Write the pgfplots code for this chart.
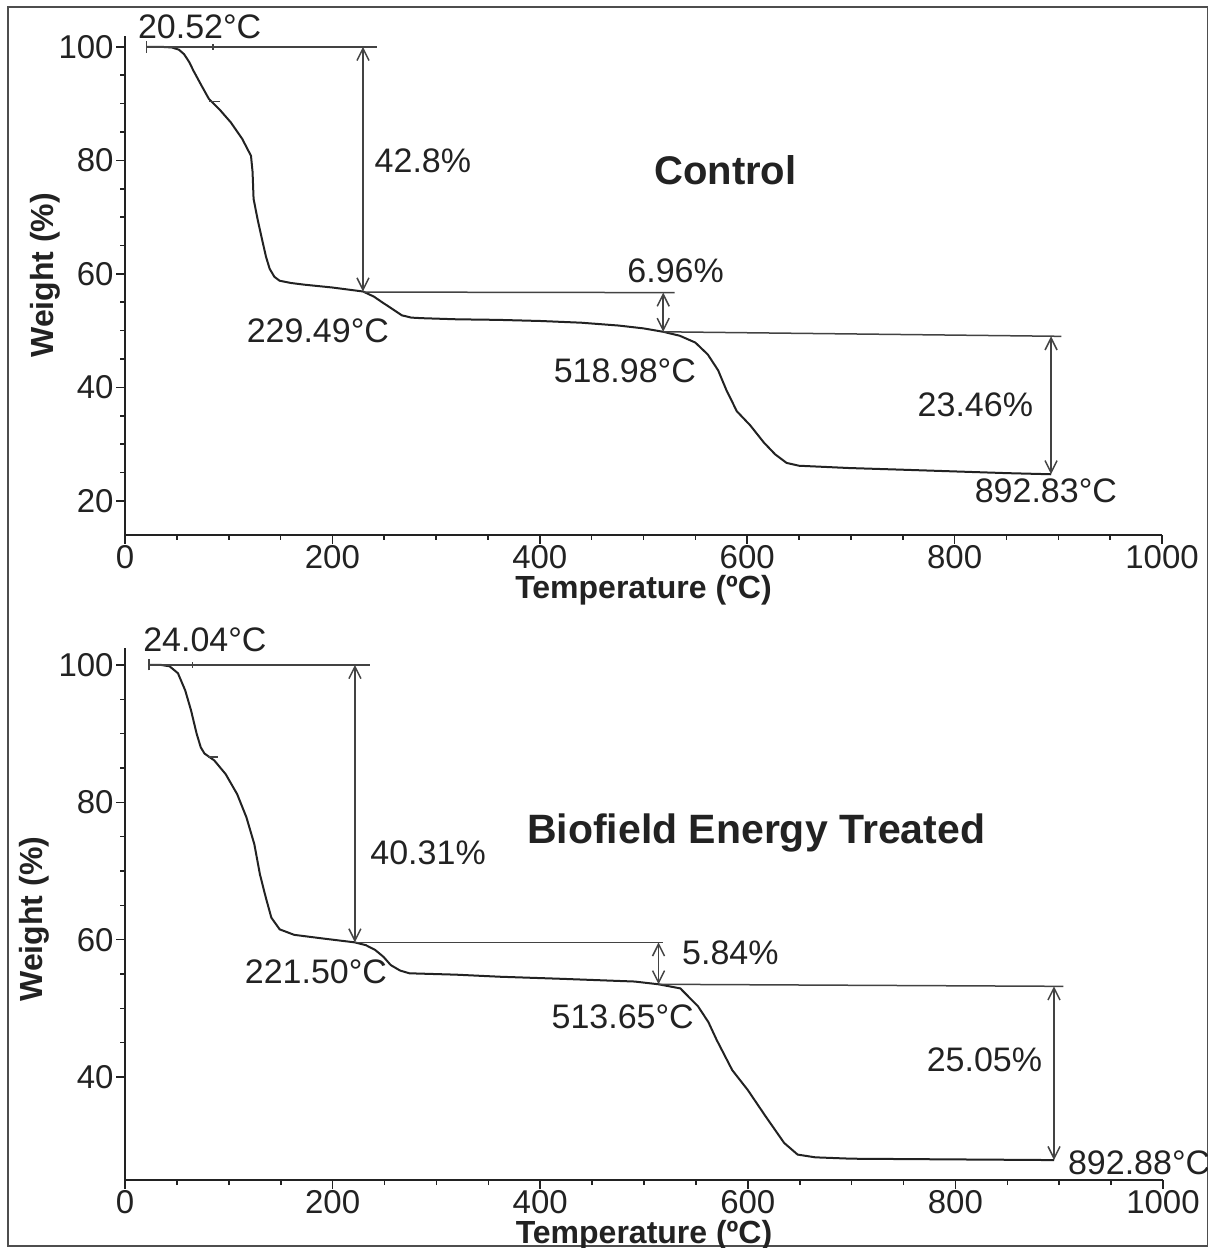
\documentclass[border=0pt]{standalone}
\usepackage{pgfplots}
\pgfplotsset{compat=1.18}
\usepackage{fontspec}
\setmainfont{Liberation Sans}
\usetikzlibrary{arrows.meta}
\definecolor{ink}{HTML}{222222}
\pgfplotsset{
  tgastyle/.style={
    scale only axis,
    axis lines*=left,
    xmin=0, xmax=1000,
    xtick={0,200,400,600,800,1000},
    minor x tick num=3,
    minor y tick num=3,
    tick align=outside,
    major tick length=4.5pt,
    minor tick length=2.5pt,
    every tick/.style={ink, line width=0.8pt},
    axis line style={ink, line width=1pt},
    tick label style={font=\fontsize{16.5}{18}\selectfont, text=ink},
    yticklabel style={inner sep=1pt},
    xticklabel style={inner sep=0.5pt},
    /pgf/number format/assume math mode=true,
    /pgf/number format/1000 sep={},
    xlabel={Temperature (ºC)},
    ylabel={Weight (\%)},
    label style={font=\bfseries\fontsize{16}{18}\selectfont, text=ink},
    xlabel style={at={(axis description cs:0.5,0)}, anchor=center, yshift=-27.5pt},
    clip=false,
  },
  curve/.style={ink, line width=1pt, no marks},
  ann/.style={ink!85, line width=0.75pt, no marks},
  dbl/.style={ink!85, line width=0.75pt, no marks, {Straight Barb[length=6pt,width=6pt]}-{Straight Barb[length=6pt,width=6pt]}},
}
\newcommand{\annfont}{\fontsize{17}{19}\selectfont\color{ink}}
\begin{document}
\begin{tikzpicture}
\useasboundingbox (0,0) rectangle (604pt,624pt);
\draw[ink!80, line width=0.7pt] (4pt,1pt) rectangle (603.6pt,620.5pt);

% ---------------- Control ----------------
\begin{axis}[tgastyle,
  at={(62.5pt,356.5pt)}, anchor=south west,
  width=518.5pt, height=249.75pt,
  ymin=14, ymax=102,
  ytick={20,40,60,80,100},
  ylabel style={at={(axis description cs:-0.077,0.52)}, anchor=center},
]
\addplot[curve] coordinates {
(20.5,100) (35,100) (45,99.9) (52,99.5) (57,98.7) (62,97.3) (66,95.8) (74,93.1)
(81,90.8) (91,89) (102,86.7) (113,83.8) (121.5,80.8) (123,78) (124,73.2) (128,69.5)
(132,66.2) (136,63) (139.5,60.9) (144,59.5) (149,58.8) (160,58.4) (173,58.1) (200,57.6)
(229.5,56.9) (240,56) (248,55) (258,53.8) (267,52.7) (276,52.3) (286,52.2) (320,52)
(360,51.9) (401,51.7) (440,51.4) (476,50.9) (500,50.4) (519,49.8) (535,49.1) (550,47.9)
(562,45.8) (572,43) (580,39.5) (590,35.8) (603,33.3) (616,30.3) (627,28.2) (638,26.7)
(650,26.2) (698,25.8) (750,25.5) (800,25.2) (850,24.9) (893,24.7)
};
% annotation lines
\addplot[ann] coordinates {(20.5,100) (243,100)};
\addplot[ann] coordinates {(20.5,99) (20.5,101)};
\addplot[ann] coordinates {(85,99.5) (85,100.5)};
\addplot[ann] coordinates {(229.5,56.8) (530,56.7)};
\addplot[ann] coordinates {(519,49.8) (903,49.0)};
\addplot[ann] coordinates {(81,90.4) (92,90.4)};
\addplot[dbl] coordinates {(229.5,100) (229.5,56.9)};
\addplot[dbl] coordinates {(519,56.7) (519,49.8)};
\addplot[dbl] coordinates {(893,49.0) (893,24.7)};
% texts
\node[font=\annfont] at (axis cs:72,103.5) {20.52°C};
\node[font=\annfont, anchor=west] at (axis cs:234,80) {42.8\%};
\node[font=\bfseries\fontsize{20}{22}\selectfont, text=ink] at (axis cs:579,78.3) {Control};
\node[font=\annfont] at (axis cs:186,50) {229.49°C};
\node[font=\annfont] at (axis cs:531,60.6) {6.96\%};
\node[font=\annfont] at (axis cs:482,43) {518.98°C};
\node[font=\annfont] at (axis cs:820,37) {23.46\%};
\node[font=\annfont] at (axis cs:888,21.7) {892.83°C};
\end{axis}

% ---------------- Biofield Energy Treated ----------------
\begin{axis}[tgastyle,
  at={(62.5pt,34pt)}, anchor=south west,
  width=519pt, height=266.1pt,
  ymin=25, ymax=102.5,
  ytick={40,60,80,100},
  ylabel style={at={(axis description cs:-0.087,0.49)}, anchor=center},
]
\addplot[curve] coordinates {
(23,100) (35,100) (43,99.8) (51,98.8) (58,96.3) (63.6,93.4) (69,90) (73,88)
(76.6,87.1) (86,86.1) (97,84.1) (108,81.2) (117,77.8) (124.6,73.9) (130,69.5)
(135.7,66.1) (141,63.2) (149,61.5) (163,60.7) (189,60.2) (221.5,59.6) (232,59.2)
(241,58.5) (249,57.5) (256,56.3) (265,55.5) (274,55.1) (319,54.9) (361,54.6)
(420,54.3) (491,53.9) (514,53.5) (535,52.9) (552,50.3) (562,48) (570,45.4) (585,41)
(600,38.1) (617,34.3) (635,30.4) (648,28.7) (665,28.3) (700,28.1) (796,28.0) (895,27.9)
};
\addplot[ann] coordinates {(23,100) (236,100)};
\addplot[ann] coordinates {(23,99.2) (23,100.8)};
\addplot[ann] coordinates {(65,99.6) (65,100.4)};
\addplot[ann] coordinates {(221.5,59.6) (518,59.6)};
\addplot[ann] coordinates {(514,53.5) (904,53.2)};
\addplot[ann] coordinates {(80,86.6) (90,86.6)};
\addplot[dbl] coordinates {(221.5,100) (221.5,59.6)};
\addplot[dbl] coordinates {(514,59.6) (514,53.5)};
\addplot[dbl] coordinates {(895,53.2) (895,27.9)};
\node[font=\annfont] at (axis cs:77,103.6) {24.04°C};
\node[font=\annfont] at (axis cs:292,72.6) {40.31\%};
\node[font=\bfseries\fontsize{20.5}{22}\selectfont, text=ink] at (axis cs:608,75.5) {Biofield Energy Treated};
\node[font=\annfont] at (axis cs:184,55.3) {221.50°C};
\node[font=\annfont, anchor=west] at (axis cs:530,58.1) {5.84\%};
\node[font=\annfont] at (axis cs:479.5,48.8) {513.65°C};
\node[font=\annfont] at (axis cs:828,42.5) {25.05\%};
\node[font=\annfont] at (axis cs:977,27.5) {892.88°C};
\end{axis}
\end{tikzpicture}
\end{document}
